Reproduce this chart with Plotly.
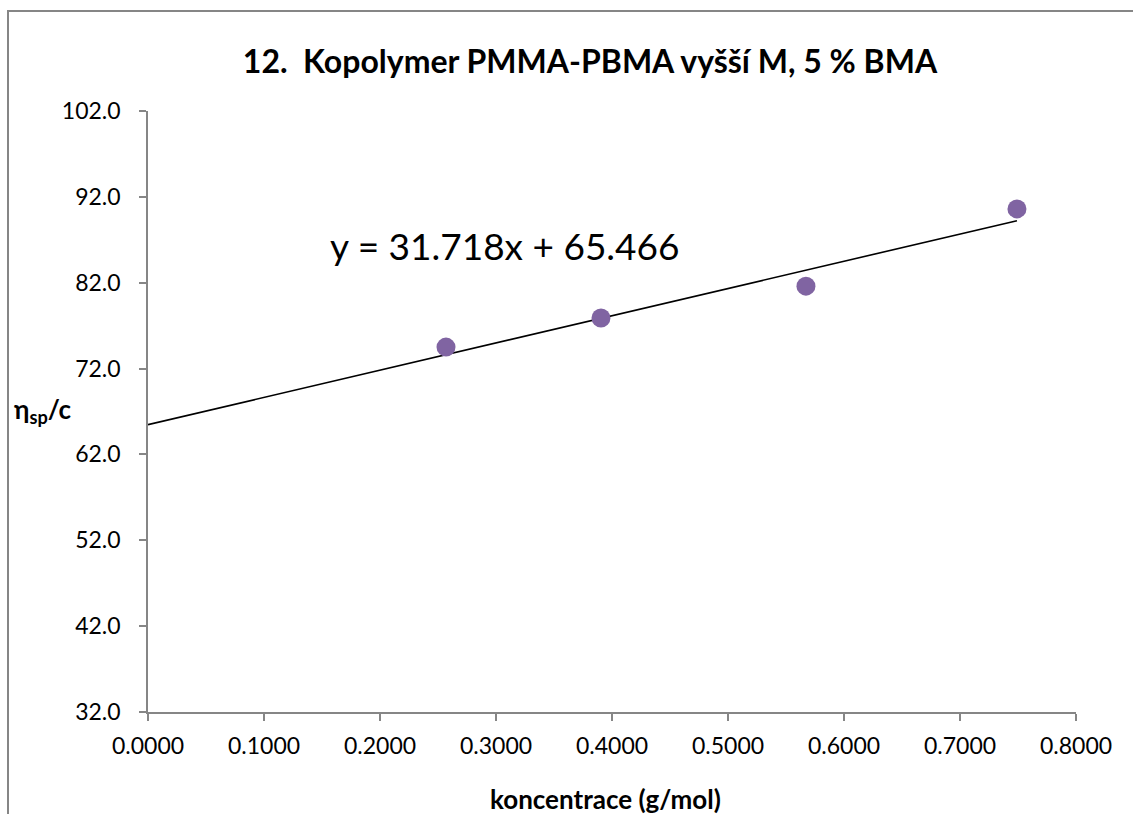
import plotly.graph_objects as go

# Measured concentrations and reduced viscosities
koncentrace = [0.2569, 0.3905, 0.5672, 0.7491]
eta_sp_c = [74.5, 77.9, 81.6, 90.6]

# Linear trendline parameters (shown in the equation label)
slope = 31.718
intercept = 65.466

x_ticks = [0.0, 0.1, 0.2, 0.3, 0.4, 0.5, 0.6, 0.7, 0.8]
y_ticks = [32.0, 42.0, 52.0, 62.0, 72.0, 82.0, 92.0, 102.0]

FONT = "Lato, Calibri, Carlito, sans-serif"
AXIS_GREY = "#868686"

line_x = [0.0, max(koncentrace)]
line_y = [slope * v + intercept for v in line_x]

fig = go.Figure()
fig.add_trace(go.Scatter(
    x=line_x, y=line_y, mode="lines",
    line=dict(color="black", width=1.6),
    hoverinfo="skip", showlegend=False,
))
fig.add_trace(go.Scatter(
    x=koncentrace, y=eta_sp_c, mode="markers",
    marker=dict(size=19, color="#8064A2"),
    showlegend=False,
))

fig.update_layout(
    width=1133, height=814,
    margin=dict(l=148, r=57, t=111, b=102),
    paper_bgcolor="white", plot_bgcolor="white",
    font=dict(family=FONT, color="black", size=23),
    title=dict(
        text="<b>12.  Kopolymer PMMA-PBMA vyšší M, 5 % BMA</b>",
        x=590 / 1133, xanchor="center",
        y=1 - 62 / 814, yanchor="middle",
        font=dict(size=32, family=FONT),
    ),
    xaxis=dict(
        range=[0, 0.8], tickvals=x_ticks, tickformat=".4f",
        showgrid=False, zeroline=False,
        showline=True, linecolor=AXIS_GREY, linewidth=1.5,
        ticks="outside", ticklen=7, tickcolor=AXIS_GREY, tickwidth=1.5,
        ticklabelstandoff=6,
        tickfont=dict(size=23, family=FONT),
    ),
    yaxis=dict(
        range=[32, 102], tickvals=y_ticks, tickformat=".1f",
        showgrid=False, zeroline=False,
        showline=True, linecolor=AXIS_GREY, linewidth=1.5,
        ticks="outside", ticklen=7, tickcolor=AXIS_GREY, tickwidth=1.5,
        ticklabelstandoff=14,
        tickfont=dict(size=23, family=FONT),
    ),
    annotations=[
        dict(
            text="y = 31.718x + 65.466",
            xref="paper", yref="paper",
            x=(328 - 148) / 928, y=(712 - 245) / 601,
            xanchor="left", yanchor="middle", showarrow=False,
            font=dict(size=37, family=FONT, color="black"),
        ),
        dict(
            text="<b>η<sub>sp</sub>/c</b>",
            xref="paper", yref="paper",
            x=(12 - 148) / 928, y=(712 - 410) / 601,
            xanchor="left", yanchor="middle", showarrow=False,
            font=dict(size=26, family=FONT, color="black"),
        ),
        dict(
            text="<b>koncentrace (g/mol)</b>",
            xref="paper", yref="paper",
            x=(605 - 148) / 928, y=(712 - 799) / 601,
            xanchor="center", yanchor="middle", showarrow=False,
            font=dict(size=26, family=FONT, color="black"),
        ),
    ],
    shapes=[
        dict(
            type="path", xref="paper", yref="paper",
            path="M %f %f L %f %f L %f %f" % (
                (8 - 148) / 928, (712 - 830) / 601,
                (8 - 148) / 928, (712 - 11) / 601,
                (1140 - 148) / 928, (712 - 11) / 601,
            ),
            line=dict(color=AXIS_GREY, width=2),
        ),
    ],
)

fig.write_html("out.html")
